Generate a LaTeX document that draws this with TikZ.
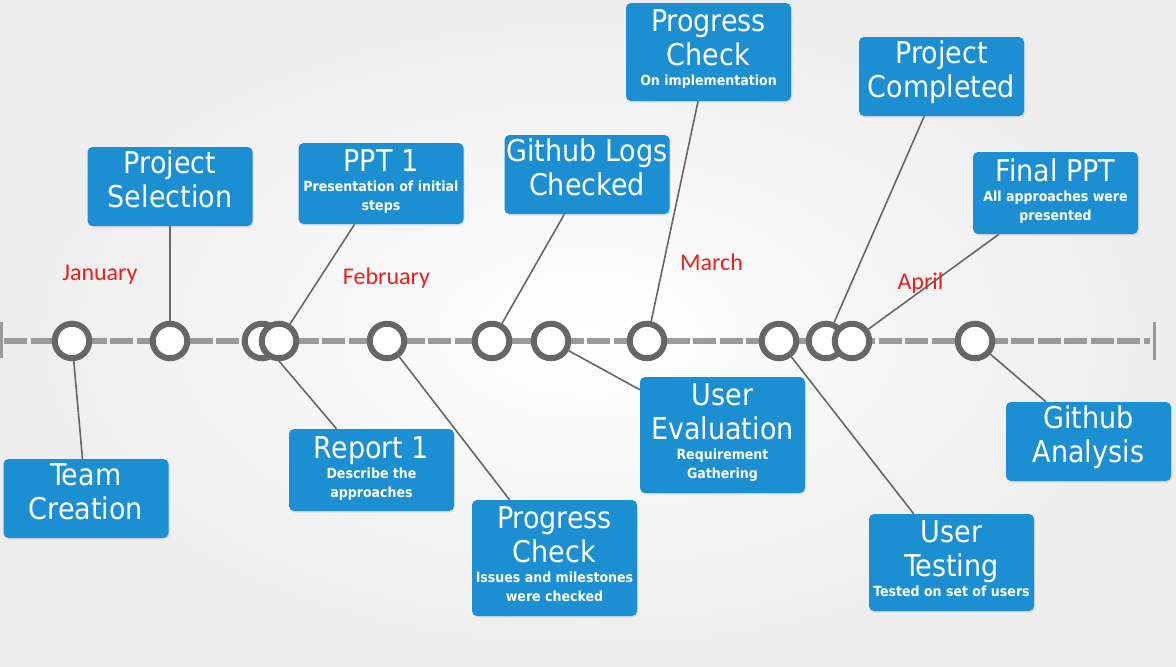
\documentclass[tikz,border=0pt]{standalone}
\usepackage{fontspec}
\setmainfont{DejaVu Sans Condensed}
\newfontfamily\monthfont{Carlito}
\usetikzlibrary{shadows}
\definecolor{boxblue}{HTML}{1B8FD2}
\definecolor{ringgray}{HTML}{666666}
\definecolor{trackgray}{HTML}{9A9A9A}
\definecolor{monthred}{HTML}{E8211D}
\newcommand{\ttl}{\fontsize{30}{34}\selectfont}
\newcommand{\subt}{\fontsize{14}{18}\selectfont\bfseries}
\pgfdeclarelayer{bg}
\pgfdeclarelayer{links}
\pgfsetlayers{bg,links,main}

\begin{document}
\begin{tikzpicture}[x=1pt,y=-1pt,
  milestone/.style={fill=boxblue,text=white,rounded corners=5pt,align=center,
    minimum width=165,minimum height=79,inner sep=0pt,font=\ttl,
    drop shadow={opacity=.18,shadow xshift=1pt,shadow yshift=-1.5pt}},
  dot/.style={circle,draw=ringgray,line width=6pt,fill=white,minimum size=34.5,inner sep=0pt},
  link/.style={draw=ringgray,line width=1.6pt},
  month/.style={text=monthred,anchor=base,font=\monthfont\fontsize{24}{26}\selectfont}]
 \useasboundingbox (0,0) rectangle (1176,667);
 \begin{pgfonlayer}{bg}
  \shade[inner color=white,outer color=gray!14] (0,0) rectangle (1176,667);
 \end{pgfonlayer}
 % time line
 \coordinate (tl) at (4,341);
 \coordinate (tr) at (1150,341);
 \draw[trackgray,line width=6pt,dash pattern=on 23pt off 3.5pt] (tl) -- (tr);
 \draw[trackgray,line width=3pt] (1,322) -- (1,358);
 \draw[trackgray,line width=3pt] (1154,322) -- (1154,360);
 \foreach \n/\x in {c1/72,c2/170,c3/262,c4/279,c5/387,c6/492,c7/551,c8/647,c9/779,c10/826,c11/852,c12/975}
  \node[dot] (\n) at (\x,341) {};
 % milestones
 \node[milestone] (team) at (86,498.5) {Team\\Creation\\[-20pt]\mbox{}};
 \node[milestone] (select) at (170,186.5) {Project\\Selection\\[-20pt]\mbox{}};
 \node[milestone,minimum height=81] (ppt1) at (381,183.5) {PPT 1\\[-14pt]\subt Presentation of initial\\[-15pt]\subt steps\\[-28pt]\mbox{}};
 \node[milestone,minimum height=82] (rep1) at (371.5,470) {Report 1\\[-14pt]\subt Describe the\\[-15pt]\subt approaches\\[-28pt]\mbox{}};
 \node[milestone,minimum height=116] (check1) at (554.5,558) {Progress\\Check\\[-14pt]\subt Issues and milestones\\[-15pt]\subt were checked\\[-26pt]\mbox{}};
 \node[milestone] (logs) at (587,174.5) {Github Logs\\Checked\\[-20pt]\mbox{}};
 \node[milestone,minimum height=116] (userev) at (722.5,435) {User\\Evaluation\\[-14pt]\subt Requirement\\[-15pt]\subt Gathering\\[-26pt]\mbox{}};
 \node[milestone,minimum height=98] (check2) at (708.5,52) {Progress\\Check\\[-14pt]\subt On implementation\\[-26pt]\mbox{}};
 \node[milestone,minimum height=97] (usertest) at (951.5,562.5) {User\\Testing\\[-14pt]\subt Tested on set of users\\[-26pt]\mbox{}};
 \node[milestone] (done) at (941.5,76.5) {Project\\Completed\\[-20pt]\mbox{}};
 \node[milestone,minimum height=82] (final) at (1055.5,193) {Final PPT\\[-14pt]\subt All approaches were\\[-15pt]\subt presented\\[-28pt]\mbox{}};
 \node[milestone] (analysis) at (1088.5,441.5) {Github\\Analysis\\[-20pt]\mbox{}};
 % connectors
 \begin{pgfonlayer}{links}
  \draw[link] (c1) -- (team);
  \draw[link] (c2) -- (select);
  \draw[link] (c4) -- (ppt1);
  \draw[link] (c3) -- (rep1);
  \draw[link] (c5) -- (check1);
  \draw[link] (c6) -- (logs);
  \draw[link] (c7) -- (userev);
  \draw[link] (c8) -- (check2);
  \draw[link] (c9) -- (usertest);
  \draw[link] (c10) -- (done);
  \draw[link] (c11) -- (final);
  \draw[link] (c12) -- (analysis.137);
 \end{pgfonlayer}
 % months
 \node[month] (jan) at (100,280) {January};
 \node[month] (feb) at (386.5,284) {February};
 \node[month] (mar) at (711.5,270) {March};
 \node[month] (apr) at (920.5,289) {April};
\end{tikzpicture}
\end{document}
